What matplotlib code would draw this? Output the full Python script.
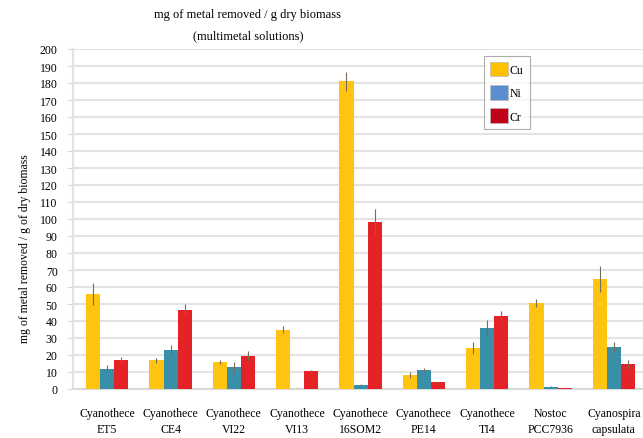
import matplotlib
matplotlib.use("Agg")
import matplotlib.pyplot as plt
import numpy as np
from matplotlib.patches import Patch

categories = ["Cyanothece\nET5", "Cyanothece\nCE4", "Cyanothece\nVI22", "Cyanothece\nVI13",
              "Cyanothece\n16SOM2", "Cyanothece\nPE14", "Cyanothece\nTI4", "Nostoc\nPCC7936",
              "Cyanospira\ncapsulata"]
cu = [56, 17, 16, 35, 181, 8.2, 24, 50.8, 64.8]
ni = [12, 23, 13, 0, 2.4, 11.2, 35.8, 1.4, 24.6]
cr = [17, 46.6, 19.2, 10.4, 98.4, 3.9, 43, 0.6, 14.5]
cu_err = [6.5, 1.5, 1.2, 2.2, 5.5, 1.6, 3.7, 2.4, 7.8]
ni_err = [2, 2.8, 3, 0.3, 0.3, 1.2, 4.5, 0.3, 3]
cr_err = [2, 3.5, 3, 1, 7.5, 0.4, 3, 0.2, 2.8]
yticks = list(range(0, 201, 10))

plt.rcParams['font.family'] = ['Liberation Serif', 'DejaVu Serif']

fig = plt.figure(figsize=(6.43, 4.39), dpi=100)
ax = fig.add_axes([73/643, 1-390/439, 1-73/643, 340/439])

x = np.arange(len(categories))
w = 0.222
bar_cols = ["#FFC40F", "#3A8FA8", "#E52226"]
leg_cols = ["#FFC000", "#5B8ED0", "#C00018"]
ekw = dict(ecolor="#7a6a5a", elinewidth=0.8, capsize=0)
for off, vals, errs, c in zip([-w, 0, w], [cu, ni, cr], [cu_err, ni_err, cr_err], bar_cols):
    ax.bar(x + off, vals, width=w, color=c, yerr=errs, error_kw=ekw, zorder=3)

ax.set_xlim(-0.54, 8.46)
ax.set_ylim(0, 200)
ax.set_yticks(yticks)
ax.set_yticklabels([str(t) for t in yticks], fontsize=8.5)
ax.set_xticks(x)
ax.set_xticklabels(categories, fontsize=8.5, linespacing=1.45)
ax.tick_params(axis='x', length=0, pad=13)
ax.tick_params(axis='y', length=4, color="#d9d9d9", pad=7)
ax.grid(axis='y', color="#e3e3e3", linewidth=1.5, zorder=0)
for s in ["top", "right"]:
    ax.spines[s].set_visible(False)
ax.spines["left"].set_color("#e3e3e3")
ax.spines["left"].set_linewidth(1.5)
ax.spines["bottom"].set_color("#d9d9d9")
ax.spines["bottom"].set_linewidth(1.5)

ax.set_ylabel("mg of metal removed / g of dry biomass", fontsize=8.5)
ax.yaxis.set_label_coords((31-73)/570, (390-249)/340)

fig.text(248/643, 1-15/439, "mg of metal removed / g dry biomass", ha="center", va="center", fontsize=9)
fig.text(248/643, 1-36/439, "(multimetal solutions)", ha="center", va="center", fontsize=9)

handles = [Patch(facecolor=c, edgecolor="#bbbbbb", linewidth=0.5) for c in leg_cols]
leg = ax.legend(handles, ["Cu", "Ni", "Cr"], loc="upper left",
                bbox_to_anchor=((484-73)/570, (390-57)/340), fontsize=8.5,
                frameon=True, fancybox=False, edgecolor="#999999",
                handlelength=1.5, handleheight=1.5, handletextpad=0.2,
                labelspacing=0.75, borderpad=0.5, borderaxespad=0)
leg.get_frame().set_linewidth(0.8)

fig.savefig("out.png", dpi=100)
